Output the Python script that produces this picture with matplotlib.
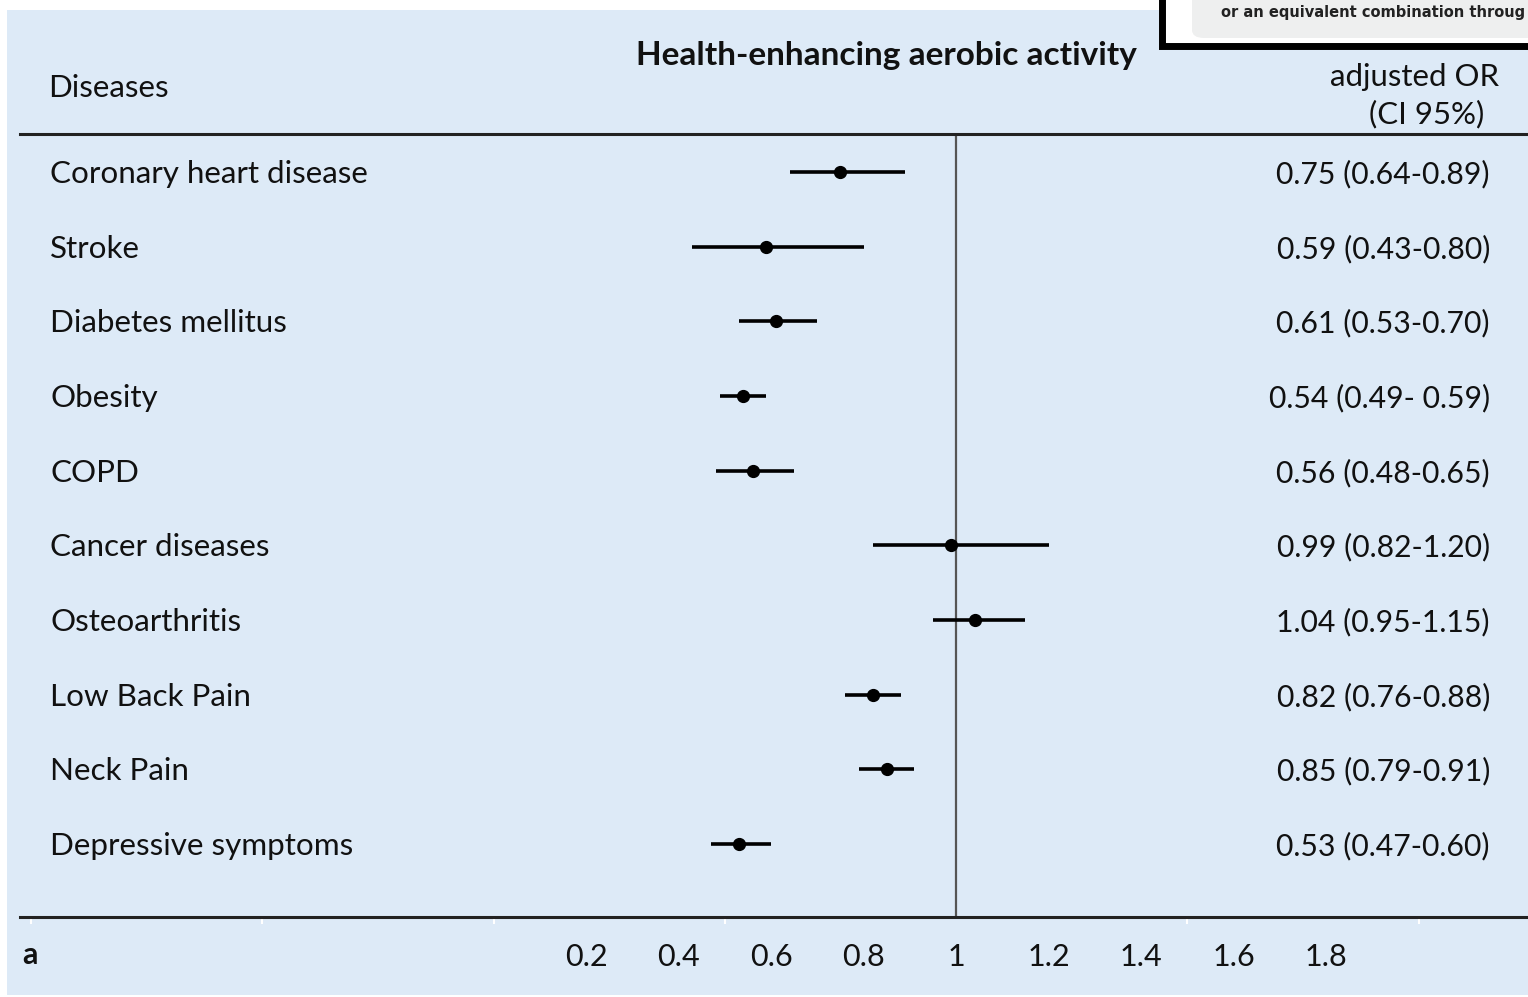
import matplotlib.pyplot as plt
from matplotlib.patches import Rectangle, FancyBboxPatch

# Data
diseases = ["Coronary heart disease", "Stroke", "Diabetes mellitus", "Obesity", "COPD",
            "Cancer diseases", "Osteoarthritis", "Low Back Pain", "Neck Pain", "Depressive symptoms"]
odds     = [0.75, 0.59, 0.61, 0.54, 0.56, 0.99, 1.04, 0.82, 0.85, 0.53]
ci_low   = [0.64, 0.43, 0.53, 0.49, 0.48, 0.82, 0.95, 0.76, 0.79, 0.47]
ci_high  = [0.89, 0.80, 0.70, 0.59, 0.65, 1.20, 1.15, 0.88, 0.91, 0.60]
or_text  = ["0.75 (0.64-0.89)", "0.59 (0.43-0.80)", "0.61 (0.53-0.70)", "0.54 (0.49- 0.59)",
            "0.56 (0.48-0.65)", "0.99 (0.82-1.20)", "1.04 (0.95-1.15)", "0.82 (0.76-0.88)",
            "0.85 (0.79-0.91)", "0.53 (0.47-0.60)"]
tick_vals   = [0.2, 0.4, 0.6, 0.8, 1, 1.2, 1.4, 1.6, 1.8]
tick_labels = ["0.2", "0.4", "0.6", "0.8", "1", "1.2", "1.4", "1.6", "1.8"]
minor_ticks = [-1.0, -0.5, 0.0, 0.5, 1.0, 1.5, 2.0]

W, H = 1528, 997
plt.rcParams["font.family"] = ["Lato", "DejaVu Sans"]
fig = plt.figure(figsize=(W / 100, H / 100), dpi=100)
fig.patch.set_facecolor("white")

def fx(x): return x / W
def fy(y): return 1 - y / H

# fondo azul
fig.patches.append(Rectangle((fx(7), fy(995)), fx(1528) - fx(7), fy(10) - fy(995),
                             transform=fig.transFigure, facecolor="#DDEAF7",
                             edgecolor="none", zorder=-5))

# Eje principal
ax = fig.add_axes([fx(20), fy(917), fx(1528) - fx(20), fy(134) - fy(917)])
ax.set_zorder(2)
ax.set_facecolor("none")
ppu = 462.5
ax.set_xlim(1 - (956 - 20) / ppu, 1 + (1528 - 956) / ppu)
step = 74.67
ax.set_ylim((917 - 172) / step, (134 - 172) / step)

ypos = list(range(len(diseases)))
ax.axvline(1, color="#555555", lw=1.6, zorder=1)
ax.hlines(ypos, ci_low, ci_high, color="black", lw=2.6, zorder=2)
ax.plot(odds, ypos, "o", color="black", ms=8.5, zorder=3)

for s in ["left", "right"]:
    ax.spines[s].set_visible(False)
for s in ["top", "bottom"]:
    ax.spines[s].set_linewidth(2.2)
    ax.spines[s].set_color("#222222")

ax.set_yticks([])
ax.set_xticks(tick_vals)
ax.set_xticklabels(tick_labels, fontsize=22, color="#111111")
ax.tick_params(axis="x", which="major", length=0, pad=19)
ax.set_xticks(minor_ticks, minor=True)
ax.tick_params(axis="x", which="minor", length=5, width=1.5, color="white", direction="out")

# Etiquetas de filas y OR
for i, (d, t) in enumerate(zip(diseases, or_text)):
    y = fy(174 + step * i)
    fig.text(fx(50), y, d, fontsize=22.6, va="center", ha="left", color="#111111")
    fig.text(fx(1490), y, t, fontsize=21.7, va="center", ha="right", color="#111111")

# Cabeceras
fig.text(fx(48), fy(88), "Diseases", fontsize=22.5, va="center", ha="left", color="#111111")
fig.text(fx(886), fy(55), "Health-enhancing aerobic activity", fontsize=24,
         fontweight="bold", va="center", ha="center", color="#111111")
fig.text(fx(1499), fy(77), "adjusted OR", fontsize=22.4, va="center", ha="right", color="#111111")
fig.text(fx(1484), fy(114), "(CI 95%)", fontsize=22.4, va="center", ha="right", color="#111111")
fig.text(fx(22), fy(955), "a", fontsize=22, fontweight="bold", va="center", ha="left",
         color="#111111")

# Recuadro superior derecho
fig.patches.append(Rectangle((fx(1162), fy(46)), fx(1540) - fx(1162), fy(-10) - fy(46),
                             transform=fig.transFigure, facecolor="white",
                             edgecolor="black", lw=5, zorder=5))
fig.patches.append(FancyBboxPatch((fx(1192), fy(38)), fx(1540) - fx(1192), fy(-10) - fy(38),
                                  boxstyle="round,pad=0,rounding_size=0.008",
                                  transform=fig.transFigure, facecolor="#EEEFEF",
                                  edgecolor="none", zorder=6))
fig.text(fx(1221), fy(13), "or an equivalent combination throug", fontsize=10.5,
         fontweight="bold", va="center", ha="left", color="#222222",
         family=["DejaVu Sans"], zorder=7)

fig.savefig("out.png", dpi=100)
